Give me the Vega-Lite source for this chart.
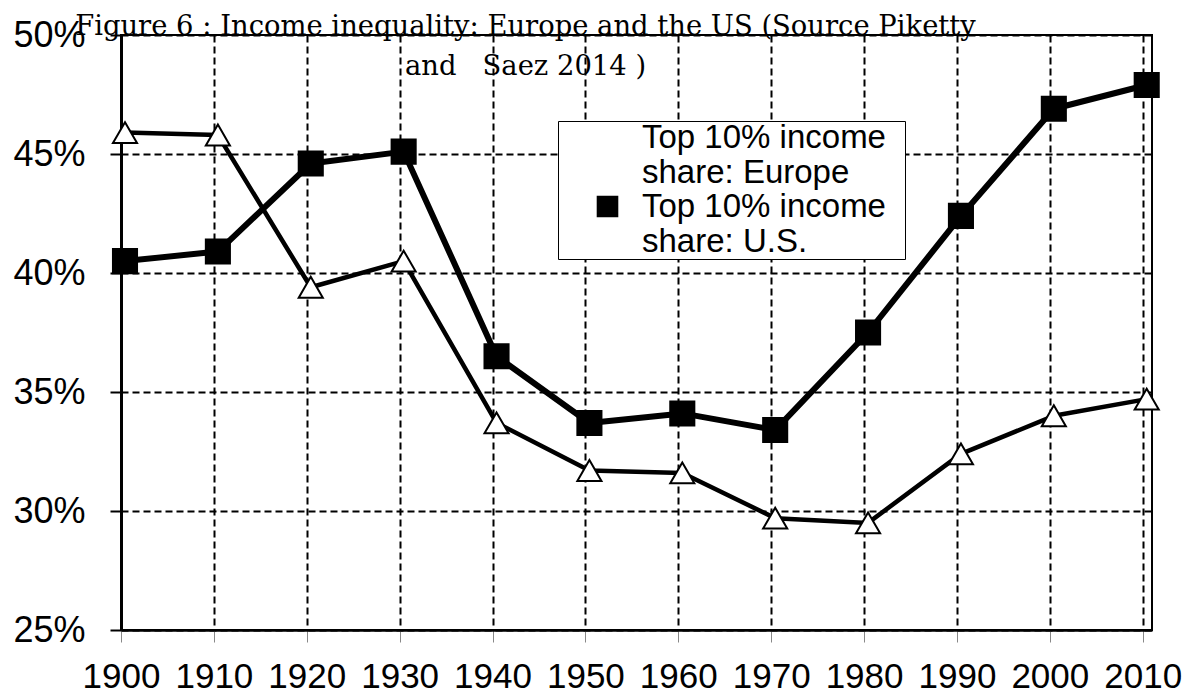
{
  "$schema": "https://vega.github.io/schema/vega-lite/v6.json",
  "width": 1031,
  "height": 595,
  "autosize": "none",
  "padding": {"left": 121, "top": 35, "right": 41, "bottom": 63},
  "background": "white",
  "config": {
    "view": {"stroke": "black", "strokeWidth": 2},
    "font": "Liberation Sans"
  },
  "title": {
    "text": ["Figure 6 : Income inequality: Europe and the US (Source Piketty", "and\u00a0\u00a0\u00a0Saez 2014 )"],
    "font": "DejaVu Serif",
    "fontSize": 27.4,
    "fontWeight": "normal",
    "color": "black",
    "anchor": "middle",
    "frame": "group",
    "offset": 0,
    "dx": -111,
    "dy": 85,
    "baseline": "alphabetic",
    "lineHeight": 40
  },
  "data": {
    "values": [
      {"year": 1900, "share": 45.9, "series": "Top 10% income share: Europe"},
      {"year": 1910, "share": 45.8, "series": "Top 10% income share: Europe"},
      {"year": 1920, "share": 39.4, "series": "Top 10% income share: Europe"},
      {"year": 1930, "share": 40.5, "series": "Top 10% income share: Europe"},
      {"year": 1940, "share": 33.7, "series": "Top 10% income share: Europe"},
      {"year": 1950, "share": 31.7, "series": "Top 10% income share: Europe"},
      {"year": 1960, "share": 31.6, "series": "Top 10% income share: Europe"},
      {"year": 1970, "share": 29.7, "series": "Top 10% income share: Europe"},
      {"year": 1980, "share": 29.5, "series": "Top 10% income share: Europe"},
      {"year": 1990, "share": 32.4, "series": "Top 10% income share: Europe"},
      {"year": 2000, "share": 34.0, "series": "Top 10% income share: Europe"},
      {"year": 2010, "share": 34.7, "series": "Top 10% income share: Europe"},
      {"year": 1900, "share": 40.5, "series": "Top 10% income share: U.S."},
      {"year": 1910, "share": 40.9, "series": "Top 10% income share: U.S."},
      {"year": 1920, "share": 44.6, "series": "Top 10% income share: U.S."},
      {"year": 1930, "share": 45.1, "series": "Top 10% income share: U.S."},
      {"year": 1940, "share": 36.5, "series": "Top 10% income share: U.S."},
      {"year": 1950, "share": 33.7, "series": "Top 10% income share: U.S."},
      {"year": 1960, "share": 34.1, "series": "Top 10% income share: U.S."},
      {"year": 1970, "share": 33.4, "series": "Top 10% income share: U.S."},
      {"year": 1980, "share": 37.5, "series": "Top 10% income share: U.S."},
      {"year": 1990, "share": 42.4, "series": "Top 10% income share: U.S."},
      {"year": 2000, "share": 46.9, "series": "Top 10% income share: U.S."},
      {"year": 2010, "share": 47.9, "series": "Top 10% income share: U.S."}
    ]
  },
  "encoding": {
    "x": {
      "field": "year",
      "type": "quantitative",
      "scale": {"domain": [1900, 2011], "nice": false, "zero": false},
      "axis": {
        "title": null,
        "values": [1900, 1910, 1920, 1930, 1940, 1950, 1960, 1970, 1980, 1990, 2000, 2010],
        "format": "d",
        "labelFont": "Liberation Sans",
        "labelFontSize": 35,
        "labelColor": "black",
        "labelPadding": 17,
        "labelOverlap": false,
        "labelFlush": false,
        "tickSize": 12,
        "tickColor": "#888888",
        "tickWidth": 1,
        "domainColor": "black",
        "domainWidth": 2.5,
        "grid": true,
        "gridColor": "black",
        "gridWidth": 2,
        "gridDash": [7, 4],
        "gridOpacity": 1
      }
    },
    "y": {
      "field": "share",
      "type": "quantitative",
      "scale": {"domain": [25, 50], "nice": false, "zero": false},
      "axis": {
        "title": null,
        "values": [25, 30, 35, 40, 45, 50],
        "labelExpr": "datum.value + '%'",
        "labelFont": "Liberation Sans",
        "labelFontSize": 36,
        "labelColor": "black",
        "labelPadding": 25,
        "labelOverlap": false,
        "labelFlush": false,
        "tickSize": 11,
        "tickColor": "black",
        "tickWidth": 2,
        "domainColor": "black",
        "domainWidth": 3,
        "grid": true,
        "gridColor": "black",
        "gridWidth": 2,
        "gridDash": [7, 4],
        "gridOpacity": 1
      }
    }
  },
  "layer": [
    {
      "transform": [{"filter": "indexof(datum.series, 'Europe') >= 0"}],
      "mark": {"type": "line", "color": "black", "strokeWidth": 4.5, "xOffset": 4, "strokeJoin": "round"},
      "encoding": {}
    },
    {
      "transform": [{"filter": "indexof(datum.series, 'U.S.') >= 0"}],
      "mark": {"type": "line", "color": "black", "strokeWidth": 6, "xOffset": 4, "strokeJoin": "round"},
      "encoding": {}
    },
    {
      "mark": {"type": "point", "filled": true, "stroke": "black", "strokeWidth": 2, "size": 580, "opacity": 1, "fillOpacity": 1, "xOffset": 4},
      "encoding": {
        "fill": {
          "condition": {"test": "indexof(datum.series, 'U.S.') >= 0", "value": "black"},
          "value": "white"
        },
        "shape": {
          "condition": {"test": "indexof(datum.series, 'U.S.') >= 0", "value": "square"},
          "value": "triangle-up"
        }
      }
    },
    {
      "transform": [{"filter": "false"}],
      "mark": {"type": "point", "filled": false, "stroke": "black", "strokeWidth": 3, "opacity": 1},
      "encoding": {
        "shape": {
          "field": "series",
          "type": "nominal",
          "scale": {
            "domain": ["Top 10% income share: Europe", "Top 10% income share: U.S."],
            "range": ["M-2.4,0L-0.39,0M0.39,0L2.4,0M0,-0.7L0.75,0.65L-0.75,0.65Z", "M-2.4,0L2.4,0M-0.9,-0.9L0.9,-0.9L0.9,0.9L-0.9,0.9Z"]
          },
          "legend": {
            "orient": "none",
            "legendX": 437,
            "legendY": 86,
            "title": null,
            "strokeColor": "black",
            "fillColor": "white",
            "padding": 0,
            "labelFont": "Liberation Sans",
            "labelFontSize": 33,
            "labelColor": "black",
            "labelLimit": 500,
            "labelOffset": 18,
            "symbolOffset": 33,
            "symbolSize": 576,
            "symbolStrokeWidth": 3,
            "symbolStrokeColor": "black",
            "symbolOpacity": 1,
            "rowPadding": -6,
            "labelExpr": "[substring(datum.label, 0, 14) + '\u00a0\u00a0\u200b', substring(datum.label, 15)]"
          }
        },
        "fill": {
          "field": "series",
          "type": "nominal",
          "scale": {
            "domain": ["Top 10% income share: Europe", "Top 10% income share: U.S."],
            "range": ["white", "black"]
          },
          "legend": {
            "orient": "none",
            "legendX": 437,
            "legendY": 86,
            "title": null,
            "strokeColor": "black",
            "fillColor": "white",
            "padding": 0,
            "labelFont": "Liberation Sans",
            "labelFontSize": 33,
            "labelColor": "black",
            "labelLimit": 500,
            "labelOffset": 18,
            "symbolOffset": 33,
            "symbolSize": 576,
            "symbolStrokeWidth": 3,
            "symbolStrokeColor": "black",
            "symbolOpacity": 1,
            "rowPadding": -6,
            "labelExpr": "[substring(datum.label, 0, 14) + '\u00a0\u00a0\u200b', substring(datum.label, 15)]"
          }
        }
      }
    }
  ]
}
